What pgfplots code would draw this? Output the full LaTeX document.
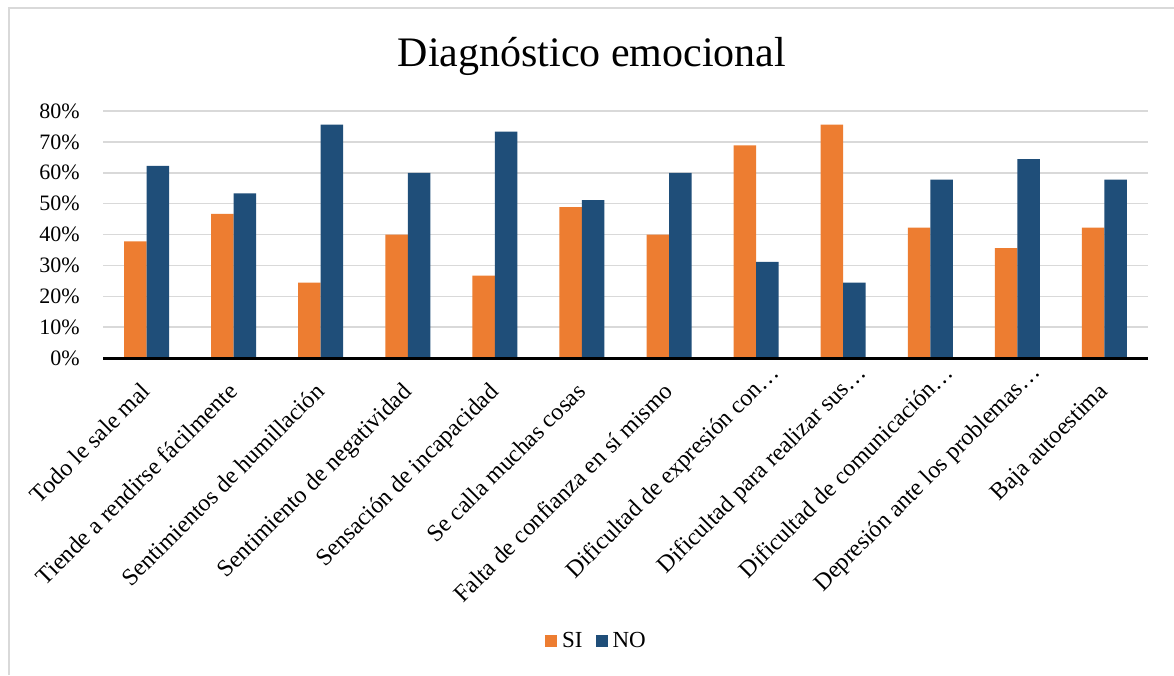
\documentclass[border=0pt]{standalone}
\usepackage{fontspec}
\setmainfont{Liberation Serif}
\usepackage{pgfplots}
\pgfplotsset{compat=1.18}
\definecolor{siorange}{HTML}{ED7D31}
\definecolor{noblue}{HTML}{1F4E79}
\definecolor{gridgray}{HTML}{D9D9D9}
\begin{document}
\begin{tikzpicture}[x=1pt,y=1pt]
\fill[white] (0,0) rectangle (1174,675);
\useasboundingbox (0,0) rectangle (1174,675);
\draw[gridgray, line width=1.5pt] (9,0) -- (9,667) -- (1174,667);
\node[font=\fontsize{42}{50}\selectfont, anchor=base] at (592,608) {Diagnóstico emocional};
\begin{axis}[
  at={(103pt,317pt)}, anchor=south west,
  scale only axis, width=1045pt, height=247pt,
  xmin=-0.5, xmax=11.5, ymin=0, ymax=80,
  clip=false,
  axis line style={draw=none},
  major tick length=0pt,
  ymajorgrids, grid style={gridgray, line width=1.5pt},
  ytick={0,10,20,30,40,50,60,70,80},
  yticklabels={0\%,10\%,20\%,30\%,40\%,50\%,60\%,70\%,80\%},
  yticklabel style={font=\fontsize{22}{26}\selectfont, anchor=east, inner sep=0pt, xshift=-23pt},
  xtick={0,1,2,3,4,5,6,7,8,9,10,11},
  xticklabels={Todo le sale mal, Tiende a rendirse fácilmente, Sentimientos de humillación, Sentimiento de negatividad, Sensación de incapacidad, Se calla muchas cosas, Falta de confianza en sí mismo, Dificultad de expresión con…\kern-27pt, Dificultad para realizar sus…\kern-27pt, Dificultad de comunicación…\kern-27pt, Depresión ante los problemas…\kern-27pt, Baja autoestima},
  xticklabel style={font=\fontsize{24}{28}\selectfont, xshift=-7pt, yshift=-23pt, rotate=45, anchor=north east, inner sep=0pt},
  ybar=0pt, bar width=22.5pt,
  legend style={at={(0.4737,-1.146)}, anchor=center, draw=none, fill=none,
    font=\fontsize{23}{27}\selectfont, legend columns=2,
    nodes={inner xsep=5pt},
    /tikz/every even column/.append style={column sep=8pt}},
]
\addplot[fill=siorange, draw=none, legend image code/.code={\fill[siorange] (0pt,-6pt) rectangle (12pt,6pt);}] coordinates {
(0,37.8) (1,46.7) (2,24.4) (3,40.0) (4,26.7) (5,48.9) (6,40.0) (7,68.9) (8,75.6) (9,42.2) (10,35.6) (11,42.2)};
\addplot[fill=noblue, draw=none, legend image code/.code={\fill[noblue] (0pt,-6pt) rectangle (12pt,6pt);}] coordinates {
(0,62.2) (1,53.3) (2,75.6) (3,60.0) (4,73.3) (5,51.1) (6,60.0) (7,31.1) (8,24.4) (9,57.8) (10,64.4) (11,57.8)};
\legend{SI,NO}
\draw[black, line width=3pt] (axis cs:-0.5,0) -- (axis cs:11.5,0);
\end{axis}
\end{tikzpicture}
\end{document}
